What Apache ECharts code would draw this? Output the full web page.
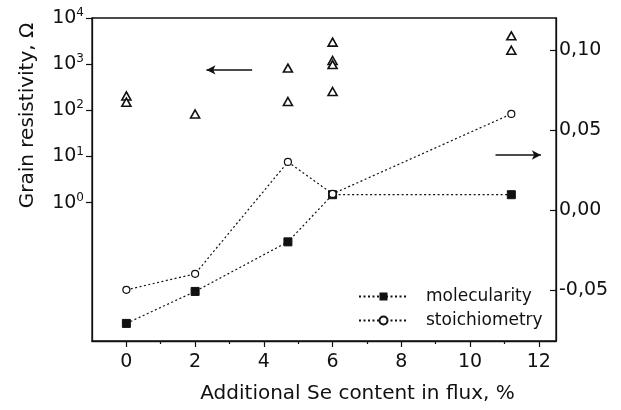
<!DOCTYPE html>
<html>
<head>
<meta charset="utf-8">
<script src="https://cdn.jsdelivr.net/npm/echarts@6/dist/echarts.min.js"></script>
<style>
  html, body { margin: 0; padding: 0; background: #fff; }
  #chart { width: 621px; height: 410px; }
</style>
</head>
<body>
<div id="chart"></div>
<script>
// additional Se content, %
const seContent = [0, 2, 4.7, 6, 11.2]
// right axis
const molecularity = [-0.071, -0.051, -0.020, 0.0095, 0.0095]
const stoichiometry = [-0.050, -0.040, 0.030, 0.010, 0.060]
// grain resistivity, Ohm (left log axis)
const resistivity = [
  [0, 205], [0, 150],
  [2, 83],
  [4.7, 820], [4.7, 155],
  [6, 3000], [6, 1200], [6, 980], [6, 255],
  [11.2, 4100], [11.2, 2000]
]
const xTicks = [0, 2, 4, 6, 8, 10, 12]
const xMinorTicks = [1, 3, 5, 7, 9, 11]
const leftTicks = [1, 10, 100, 1000, 10000]
const rightTicks = [-0.05, 0, 0.05, 0.1]

const font = 'DejaVu Sans, Arial, sans-serif'
const ink = '#111'
const dotted = { color: ink, width: 1.2, type: [2, 2.5] }

const chart = echarts.init(document.getElementById('chart'))
const option = {
  animation: false,
  textStyle: { fontFamily: font },
  grid: {
    left: 92, right: 65, top: 18, bottom: 69,
    show: true, borderColor: ink, borderWidth: 1.3
  },
  legend: {
    orient: 'vertical',
    left: 353,
    top: 283,
    itemWidth: 49,
    itemHeight: 10,
    itemGap: 7,
    data: ['molecularity', 'stoichiometry'],
    textStyle: { fontSize: 17, color: ink, fontFamily: font, padding: [0, 0, 0, 13] }
  },
  xAxis: [
    {
      type: 'value', min: -1, max: 12.5, position: 'bottom',
      splitLine: { show: false },
      axisLine: { onZero: false, lineStyle: { color: ink, width: 1.3 } },
      axisTick: { customValues: xTicks, length: 6, lineStyle: { color: ink, width: 1.2 } },
      axisLabel: { customValues: xTicks, fontSize: 19, color: ink, margin: 12, fontFamily: font },
      name: 'Additional Se content in flux, %',
      nameLocation: 'middle',
      nameGap: 43,
      nameTextStyle: { fontSize: 20, color: ink, fontFamily: font, padding: [0, 0, 0, 67] }
    },
    {
      type: 'value', min: -1, max: 12.5, position: 'bottom',
      splitLine: { show: false },
      axisLine: { show: false, onZero: false },
      axisTick: { customValues: xMinorTicks, length: 3, lineStyle: { color: ink, width: 1.2 } },
      axisLabel: { show: false }
    }
  ],
  yAxis: [
    {
      type: 'log', logBase: 10, min: 0.001, max: 10000, position: 'left',
      splitLine: { show: false },
      axisLine: { show: true, onZero: false, lineStyle: { color: ink, width: 1.3 } },
      axisTick: { customValues: leftTicks, length: 6, lineStyle: { color: ink, width: 1.2 } },
      axisLabel: {
        customValues: leftTicks,
        color: ink,
        margin: 8,
        formatter: v => '{b|10}{s|' + Math.round(Math.log10(v)) + '}',
        rich: {
          b: { fontSize: 19, color: ink, fontFamily: font },
          s: { fontSize: 12, color: ink, fontFamily: font, padding: [0, 0, 10, 0] }
        }
      },
      name: 'Grain resistivity, \u03a9',
      nameLocation: 'middle',
      nameGap: 54,
      nameTextStyle: { fontSize: 20, color: ink, fontFamily: font, padding: [0, 0, 0, 128] }
    },
    {
      type: 'value', min: -0.082, max: 0.12, position: 'right',
      splitLine: { show: false },
      axisLine: { show: true, onZero: false, lineStyle: { color: ink, width: 1.3 } },
      axisTick: { customValues: rightTicks, inside: true, length: 6, lineStyle: { color: ink, width: 1.2 } },
      axisLabel: {
        customValues: rightTicks,
        fontSize: 19, color: ink, margin: 3, fontFamily: font,
        formatter: v => v.toFixed(2).replace('.', ',')
      }
    }
  ],
  series: [
    {
      name: 'resistivity',
      type: 'scatter',
      yAxisIndex: 0,
      symbol: 'triangle',
      symbolSize: [9, 8],
      itemStyle: { color: '#fff', borderColor: ink, borderWidth: 1.6, opacity: 1 },
      data: resistivity,
      markLine: {
        silent: true,
        symbol: ['none', 'arrow'],
        symbolSize: [7, 9],
        label: { show: false },
        lineStyle: { color: ink, width: 1.5, type: 'solid' },
        data: [[{ coord: [3.66, 750] }, { coord: [2.33, 750] }]]
      }
    },
    {
      name: 'molecularity',
      type: 'line',
      yAxisIndex: 1,
      symbol: 'rect',
      symbolSize: 8,
      itemStyle: { color: ink, borderColor: ink },
      lineStyle: dotted,
      data: seContent.map((x, i) => [x, molecularity[i]])
    },
    {
      name: 'stoichiometry',
      type: 'line',
      yAxisIndex: 1,
      symbol: 'circle',
      symbolSize: 7,
      itemStyle: { color: '#fff', borderColor: ink, borderWidth: 1.2 },
      lineStyle: dotted,
      data: seContent.map((x, i) => [x, stoichiometry[i]]),
      markLine: {
        silent: true,
        symbol: ['none', 'arrow'],
        symbolSize: [7, 9],
        label: { show: false },
        lineStyle: { color: ink, width: 1.5, type: 'solid' },
        data: [[{ coord: [10.74, 0.0343] }, { coord: [12.06, 0.0343] }]]
      }
    }
  ]
}
chart.setOption(option)
</script>
</body>
</html>
